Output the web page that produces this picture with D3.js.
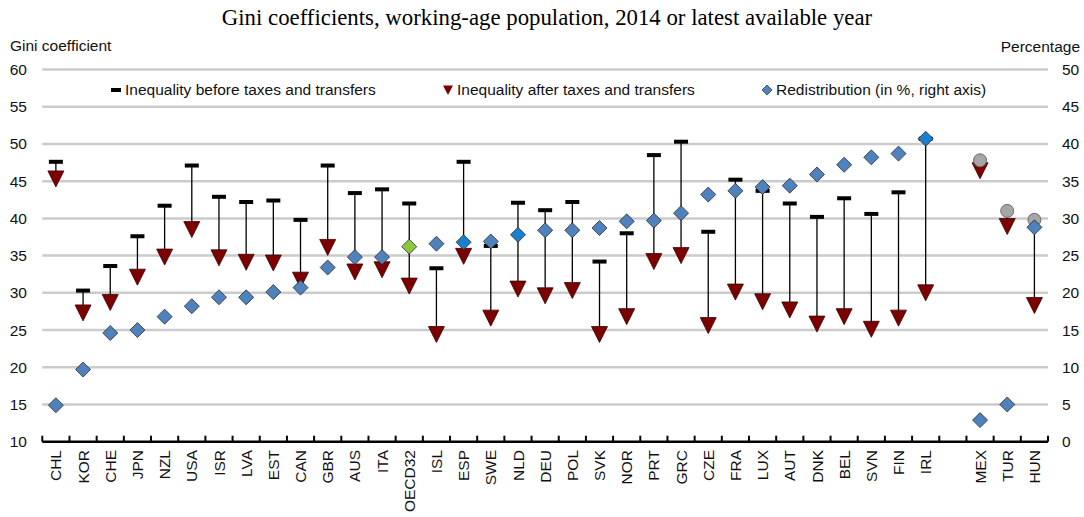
<!DOCTYPE html>
<html><head><meta charset="utf-8">
<script src="https://cdn.jsdelivr.net/npm/d3@7"></script>
<style>
body{margin:0;background:#fff}
svg{display:block}
text{font-family:"Liberation Sans",Arial,sans-serif;fill:#111}
</style>
</head><body>
<svg id="chart" width="1084" height="517"></svg>
<script>
// ---- data ----
const categories = ["CHL","KOR","CHE","JPN","NZL","USA","ISR","LVA","EST","CAN","GBR","AUS","ITA","OECD32","ISL","ESP","SWE","NLD","DEU","POL","SVK","NOR","PRT","GRC","CZE","FRA","LUX","AUT","DNK","BEL","SVN","FIN","IRL","","MEX","TUR","HUN"];
const beforeTaxes = [47.6,30.3,33.6,37.6,41.7,47.1,42.9,42.2,42.4,39.8,47.1,43.4,43.9,42.0,33.3,47.6,36.3,42.1,41.1,42.2,34.2,38.0,48.5,50.3,38.2,45.2,43.7,42.0,40.2,42.7,40.6,43.5,50.7,null,47.8,41.0,39.8];
const afterTaxes = [45.3,27.3,28.7,32.1,34.8,38.5,34.7,34.1,34.0,31.7,36.1,32.8,33.1,30.9,24.4,34.9,26.6,30.5,29.6,30.3,24.4,26.8,34.2,35.0,25.6,30.1,28.8,27.7,25.8,26.8,25.1,26.6,30.0,null,46.4,38.9,28.3];
const redistribution = [4.9,9.7,14.6,15.0,16.8,18.2,19.4,19.4,20.1,20.7,23.4,24.8,24.8,26.2,26.6,26.8,26.9,27.8,28.4,28.4,28.7,29.6,29.7,30.7,33.2,33.7,34.2,34.4,35.9,37.2,38.2,38.7,40.7,null,2.9,5.0,28.8];
const circleBeforeCountries = ["MEX","TUR","HUN"];
const highlightBlue = ["ESP","NLD","IRL"];
const highlightGreen = ["OECD32"];
const leftTicks = [10,15,20,25,30,35,40,45,50,55,60];
const rightTicks = [0,5,10,15,20,25,30,35,40,45,50];
const legendLabels = ["Inequality before taxes and transfers","Inequality after taxes and transfers","Redistribution (in %, right axis)"];
const titleText = "Gini coefficients, working-age population, 2014 or latest available year";

// ---- layout ----
const svg = d3.select("#chart");
const L = 42.3, R = 1048, T = 69.5, B = 441.7;
const x = d3.scaleBand().domain(categories).range([L, R]).padding(0);
const yL = d3.scaleLinear().domain([10, 60]).range([B, T]);
const yR = d3.scaleLinear().domain([0, 50]).range([B, T]);
const bw = x.bandwidth();
const cx = c => x(c) + bw / 2;
const FS = 15.5;

// title
svg.append("text").attr("x", 547).attr("y", 25).attr("text-anchor", "middle")
  .style("font-family", '"Liberation Serif","Times New Roman",serif').style("font-size", "22.8px")
  .style("fill", "#000")
  .text(titleText);

// axis titles
svg.append("text").attr("x", 10).attr("y", 51).style("font-size", FS + "px").text("Gini coefficient");
svg.append("text").attr("x", 1080).attr("y", 52).attr("text-anchor", "end").style("font-size", FS + "px").text("Percentage");

// gridlines
svg.append("g").selectAll("line").data(leftTicks.filter(v => v > 10)).join("line")
  .attr("x1", L).attr("x2", R).attr("y1", d => yL(d)).attr("y2", d => yL(d))
  .attr("stroke", "#cbcbcb").attr("stroke-width", 2.5);

// left axis
const gl = svg.append("g").attr("transform", "translate(27,0)")
  .call(d3.axisLeft(yL).tickValues(leftTicks).tickSize(0).tickPadding(0).tickFormat(d3.format("d")));
gl.select(".domain").remove();
gl.selectAll("text").style("font-size", FS + "px").style("font-family", '"Liberation Sans",Arial,sans-serif').attr("fill", "#111");

// right axis
const gr = svg.append("g").attr("transform", "translate(1062,0)")
  .call(d3.axisRight(yR).tickValues(rightTicks).tickSize(0).tickPadding(0).tickFormat(d3.format("d")));
gr.select(".domain").remove();
gr.selectAll("text").style("font-size", FS + "px").style("font-family", '"Liberation Sans",Arial,sans-serif').attr("fill", "#111");

// bottom axis
svg.append("line").attr("x1", L).attr("x2", R).attr("y1", B).attr("y2", B)
  .attr("stroke", "#000").attr("stroke-width", 2.5);
const bounds = categories.map(c => x(c)).concat([x.range()[1]]);
svg.append("g").selectAll("line").data(bounds).join("line")
  .attr("x1", d => d).attr("x2", d => d).attr("y1", B).attr("y2", B - 6)
  .attr("stroke", "#000").attr("stroke-width", 2);
svg.append("g").selectAll("text").data(categories.filter(c => c !== "")).join("text")
  .attr("transform", d => `translate(${cx(d)},450) rotate(-90)`)
  .attr("text-anchor", "end").attr("dy", "0.36em").style("font-size", FS + "px").text(d => d);

// data rows
const rows = categories.map((c, i) => ({c, b: beforeTaxes[i], a: afterTaxes[i], r: redistribution[i]})).filter(d => d.c !== "");

// connecting lines
svg.append("g").selectAll("line").data(rows).join("line")
  .attr("x1", d => cx(d.c)).attr("x2", d => cx(d.c))
  .attr("y1", d => yL(d.b)).attr("y2", d => yL(d.a))
  .attr("stroke", "#000").attr("stroke-width", 1.3);

// before dashes
svg.append("g").selectAll("rect").data(rows.filter(d => !circleBeforeCountries.includes(d.c))).join("rect")
  .attr("x", d => cx(d.c) - 7).attr("y", d => yL(d.b) - 2).attr("width", 14).attr("height", 4).attr("fill", "#000");

// after triangles
const tri = "M-8,-8L8,-8L0,8Z";
svg.append("g").selectAll("path").data(rows).join("path")
  .attr("d", tri).attr("transform", d => `translate(${cx(d.c)},${yL(d.a)})`)
  .attr("fill", "#7d0000").attr("stroke", "#3a0000").attr("stroke-width", 0.8);

// grey circles (before) for special countries
svg.append("g").selectAll("circle").data(rows.filter(d => circleBeforeCountries.includes(d.c))).join("circle")
  .attr("cx", d => cx(d.c)).attr("cy", d => yL(d.b)).attr("r", 6.5)
  .attr("fill", "#a6a6a6").attr("stroke", "#6a6a6a").attr("stroke-width", 1);

// redistribution diamonds
const dia = "M0,-7.5L7.5,0L0,7.5L-7.5,0Z";
svg.append("g").selectAll("path").data(rows).join("path")
  .attr("d", dia).attr("transform", d => `translate(${cx(d.c)},${yR(d.r)})`)
  .attr("fill", d => highlightGreen.includes(d.c) ? "#8dc63f" : highlightBlue.includes(d.c) ? "#1a80cc" : "#4f81bd")
  .attr("stroke", "#2a2a2a").attr("stroke-width", 0.8);

// legend
const ly = 90;
const lg = svg.append("g");
lg.append("rect").attr("x", 111).attr("y", ly - 2).attr("width", 10).attr("height", 4).attr("fill", "#000");
lg.append("text").attr("x", 125).attr("y", ly).attr("dy", "0.35em").style("font-size", FS + "px").text(legendLabels[0]);
lg.append("path").attr("d", "M-5,-4.5L5,-4.5L0,5Z").attr("transform", `translate(448,${ly})`).attr("fill", "#7d0000");
lg.append("text").attr("x", 457).attr("y", ly).attr("dy", "0.35em").style("font-size", FS + "px").text(legendLabels[1]);
lg.append("path").attr("d", "M0,-5L5,0L0,5L-5,0Z").attr("transform", `translate(767,${ly})`).attr("fill", "#4f81bd").attr("stroke", "#2a2a2a").attr("stroke-width", 0.7);
lg.append("text").attr("x", 776).attr("y", ly).attr("dy", "0.35em").style("font-size", FS + "px").text(legendLabels[2]);
</script>
</body></html>
